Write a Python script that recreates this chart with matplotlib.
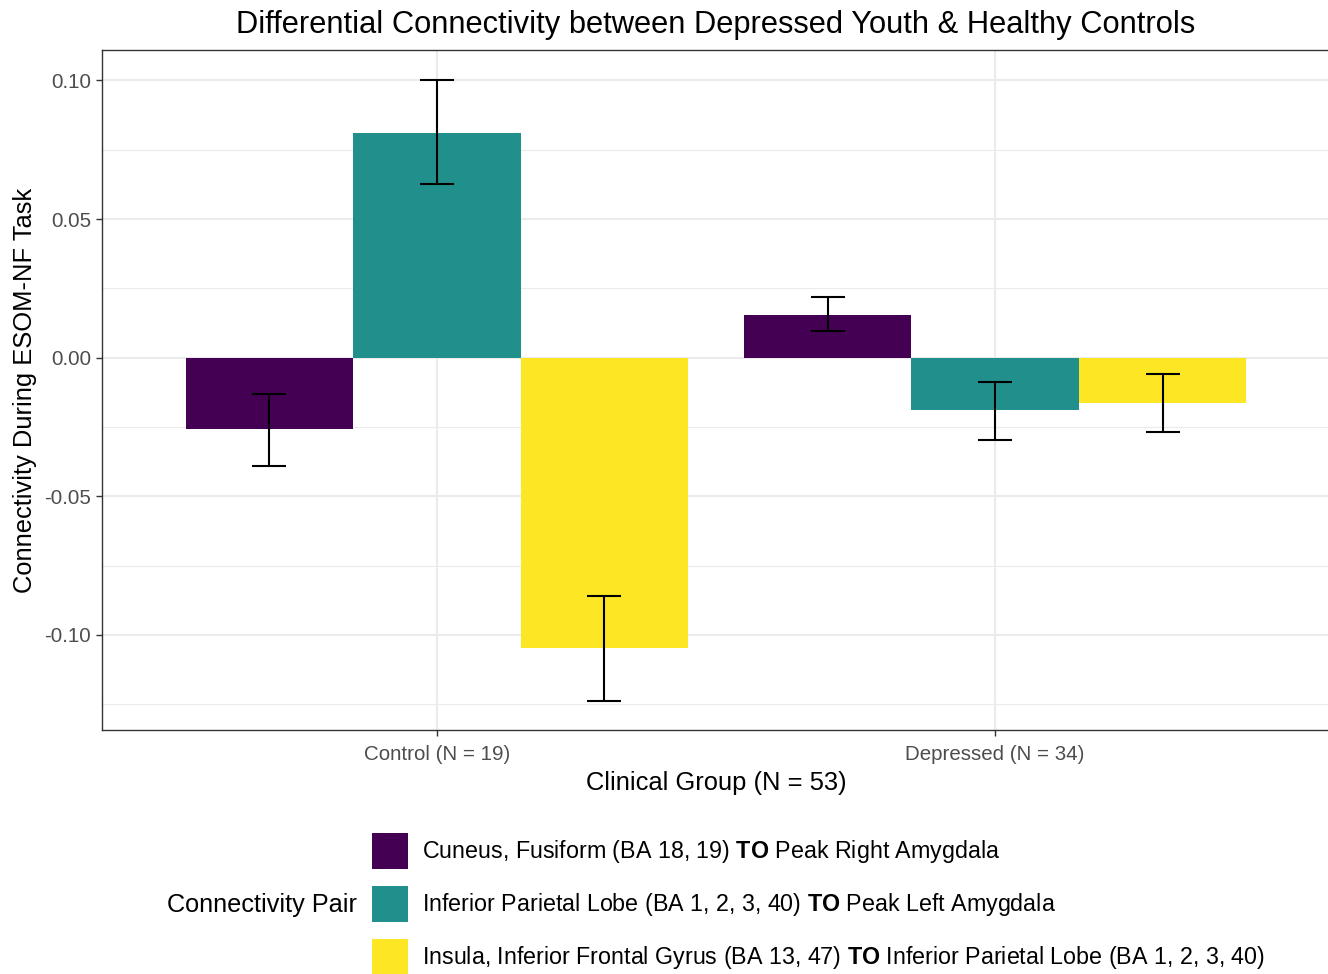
import matplotlib
matplotlib.use('Agg')
import matplotlib.pyplot as plt
from matplotlib.ticker import MultipleLocator
import numpy as np

plt.rcParams['font.family'] = ['Liberation Sans', 'DejaVu Sans']
plt.rcParams['mathtext.fontset'] = 'custom'
plt.rcParams['mathtext.bf'] = 'Liberation Sans:bold'
plt.rcParams['mathtext.rm'] = 'Liberation Sans'

# Dados
groups = ['Control (N = 19)', 'Depressed (N = 34)']
pairs = [
    r'Cuneus, Fusiform (BA 18, 19) $\mathbf{TO}$ Peak Right Amygdala',
    r'Inferior Parietal Lobe (BA 1, 2, 3, 40) $\mathbf{TO}$ Peak Left Amygdala',
    r'Insula, Inferior Frontal Gyrus (BA 13, 47) $\mathbf{TO}$ Inferior Parietal Lobe (BA 1, 2, 3, 40)',
]
means = [
    [-0.0258, 0.0155],
    [0.0812, -0.0188],
    [-0.1047, -0.0162],
]
err_low = [
    [-0.0390, 0.0098],
    [0.0625, -0.0296],
    [-0.1237, -0.0267],
]
err_high = [
    [-0.0130, 0.0218],
    [0.1000, -0.0086],
    [-0.0858, -0.0058],
]
colors = ['#440154', '#21908C', '#FDE725']

fig = plt.figure(figsize=(13.28, 9.74), dpi=100)
ax = fig.add_axes([102 / 1328, 1 - 730 / 974, 1228 / 1328, 680 / 974])

x = np.arange(1, len(groups) + 1)
width = 0.3
handles = []
for i in range(3):
    pos = x + (i - 1) * width
    m = np.array(means[i])
    lo = np.array(err_low[i])
    hi = np.array(err_high[i])
    b = ax.bar(pos, m, width=width, color=colors[i], zorder=2)
    handles.append(b)
    ax.errorbar(pos, m, yerr=[m - lo, hi - m], fmt='none', ecolor='black',
                elinewidth=1.5, capsize=12, capthick=1.5, zorder=3)

ax.set_xlim(0.4, 2.6)
ax.set_ylim(-0.1343, 0.111)
ax.set_xticks(x)
ax.set_xticklabels(groups)
ax.yaxis.set_minor_locator(MultipleLocator(0.025))
ax.set_yticks([-0.10, -0.05, 0.0, 0.05, 0.10])
ax.set_yticklabels(['-0.10', '-0.05', '0.00', '0.05', '0.10'])
ax.grid(True, which='major', color='#EBEBEB', linewidth=1.5, zorder=0)
ax.grid(True, which='minor', axis='y', color='#EBEBEB', linewidth=0.8, zorder=0)
ax.set_axisbelow(True)
ax.tick_params(axis='both', which='major', labelsize=14.8, labelcolor='#4D4D4D',
               color='#333333', length=4.5, width=1)
ax.tick_params(axis='x', which='major', pad=6)
ax.tick_params(axis='y', which='minor', length=0)
for s in ax.spines.values():
    s.set_color('#333333')
    s.set_linewidth(1)

ax.set_xlabel('Clinical Group (N = 53)', fontsize=18.4, labelpad=5)
ax.set_ylabel('Connectivity During ESOM-NF Task', fontsize=18.4, labelpad=5)
ax.set_title('Differential Connectivity between Depressed Youth & Healthy Controls',
             fontsize=22.2, pad=12)

fig.legend(handles, pairs, loc='upper left', bbox_to_anchor=(372 / 1328, 1 - 833 / 974),
           frameon=False, fontsize=16.75, borderpad=0, borderaxespad=0,
           handlelength=1.548, handleheight=2.0, handletextpad=0.62, labelspacing=0.73)
fig.text(357 / 1328, 1 - 905 / 974, 'Connectivity Pair', fontsize=18.2,
         ha='right', va='center')

plt.savefig('out.png', dpi=100)
